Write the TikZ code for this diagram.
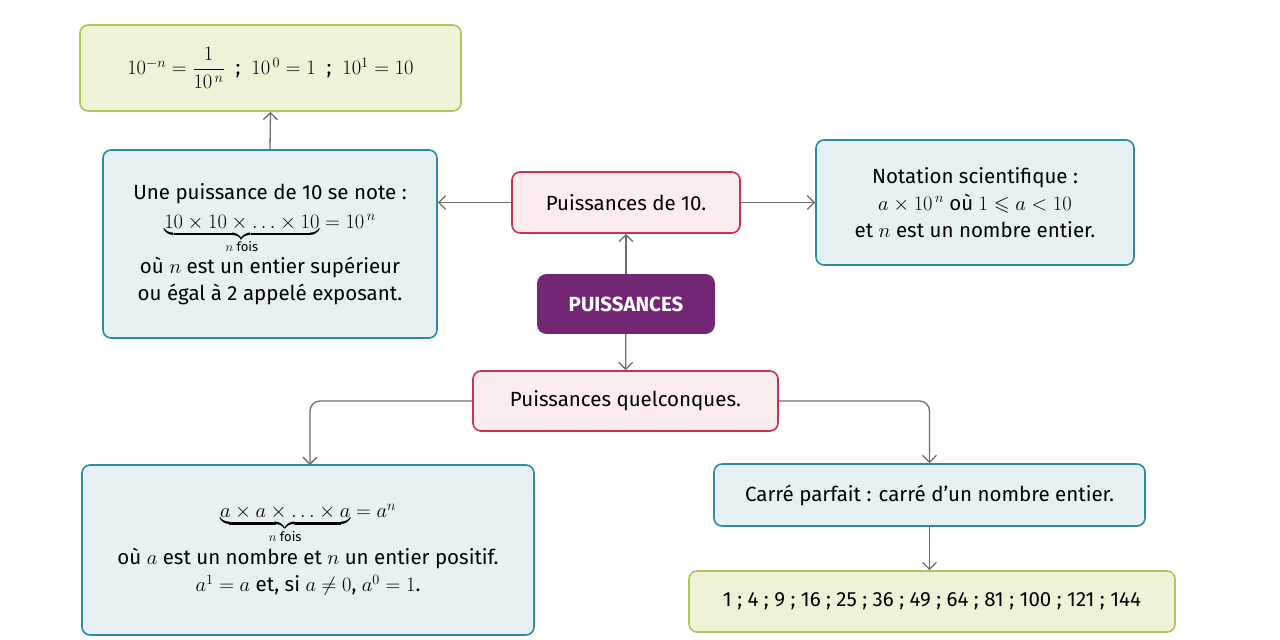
\RequirePackage{fix-cm}
\documentclass[tikz,border=0pt]{standalone}
\usepackage{amsmath,amssymb}
\usepackage{fontspec}
\setmainfont{Fira Sans}
\usetikzlibrary{arrows.meta}
\definecolor{gfill}{RGB}{238,243,216}
\definecolor{gline}{RGB}{168,200,88}
\definecolor{bfill}{RGB}{231,240,243}
\definecolor{bline}{RGB}{42,140,160}
\definecolor{pfill}{RGB}{251,236,239}
\definecolor{pline}{RGB}{200,50,85}
\definecolor{purp}{RGB}{115,38,115}
\definecolor{arr}{RGB}{110,110,110}
\begin{document}
\begin{tikzpicture}[x=1pt,y=-1pt,
 font=\fontsize{20.5}{27}\selectfont,
 box/.style={draw,line width=1.6pt,rounded corners=8pt,align=center,inner sep=0pt},
 G/.style={box,fill=gfill,draw=gline},
 B/.style={box,fill=bfill,draw=bline},
 P/.style={box,fill=pfill,draw=pline},
 ar/.style={draw=arr,line width=1.3pt,-{Straight Barb[length=7pt,width=14pt]},rounded corners=10pt}]
\useasboundingbox (0,0) rectangle (1280,640);
\node[G,minimum width=381pt,minimum height=86pt] (top) at (270.5,68) {$10^{-n}=\dfrac{1}{10^{\,n}}$\ \ ;\ \ $10^{\,0}=1$\ \ ;\ \ $10^{1}=10$};
\node[B,minimum width=334pt,minimum height=188pt] (lb) at (270,244) {Une puissance de 10 se note :\\[2pt]
$\underbrace{10\times10\times\ldots\times10}_{\mbox{\fontsize{13}{15}\selectfont $n$ fois}}=10^{\,n}$\\[2pt]
où $n$ est un entier supérieur\\ ou égal à 2 appelé exposant.};
\node[P,minimum width=228pt,minimum height=61pt] (p10) at (626,202.5) {Puissances de 10.};
\node[B,minimum width=318pt,minimum height=125pt] (rb) at (975,202.5) {Notation scientifique :\\ $a\times10^{\,n}$ où $1\leqslant a<10$\\ et $n$ est un nombre entier.};
\node[box,fill=purp,draw=purp,text=white,font=\fontsize{20.5}{27}\selectfont\bfseries,minimum width=176pt,minimum height=58pt] (pu) at (626,304) {PUISSANCES};
\node[P,minimum width=305pt,minimum height=60pt] (pq) at (625.5,401) {Puissances quelconques.};
\node[B,minimum width=452pt,minimum height=170pt] (bl) at (308,550) {$\underbrace{a\times a\times\ldots\times a}_{\mbox{\fontsize{13}{15}\selectfont $n$ fois}}=a^{n}$\\[4pt]
où $a$ est un nombre et $n$ un entier positif.\\ $a^{1}=a$ et, si $a\neq0$, $a^{0}=1$.};
\node[B,minimum width=431pt,minimum height=62pt] (cp) at (929.5,495) {Carré parfait : carré d’un nombre entier.};
\node[G,minimum width=486pt,minimum height=61pt] (sq) at (932,601.5) {1 ; 4 ; 9 ; 16 ; 25 ; 36 ; 49 ; 64 ; 81 ; 100 ; 121 ; 144};
\draw[ar] (pu) -- (p10);
\draw[ar] (p10) -- (lb.east|-p10);
\draw[ar] (p10) -- (rb);
\draw[ar] (lb.north) -- (top.south);
\draw[ar] (pu) -- (pq);
\draw[ar] (pq.west) -| (310,465);
\draw[ar] (pq.east) -| (cp.north);
\draw[ar] (cp) -- (cp.south|-sq.north);
\end{tikzpicture}
\end{document}
